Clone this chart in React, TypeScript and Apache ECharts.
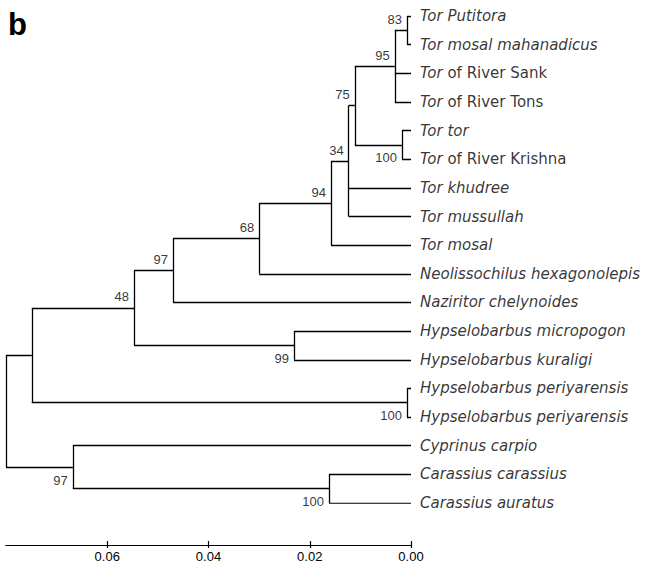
import React, { useEffect, useRef } from "react";
import * as echarts from "echarts";

// Leaf labels (top to bottom): italic part and roman part
const leafItalic = [
  "Tor Putitora",
  "Tor mosal mahanadicus",
  "Tor",
  "Tor",
  "Tor tor",
  "Tor",
  "Tor khudree",
  "Tor mussullah",
  "Tor mosal",
  "Neolissochilus hexagonolepis",
  "Naziritor chelynoides",
  "Hypselobarbus micropogon",
  "Hypselobarbus kuraligi",
  "Hypselobarbus periyarensis",
  "Hypselobarbus periyarensis",
  "Cyprinus carpio",
  "Carassius carassius",
  "Carassius auratus",
];
const leafRoman = [
  "", "", " of River Sank", " of River Tons", "", " of River Krishna",
  "", "", "", "", "", "", "", "", "", "", "", "",
];

// Internal nodes (children listed before parents)
const nodeIds = ["n83", "n95", "n100a", "n75", "n34", "n94", "n68", "n97a", "n99", "n48", "n100b", "nA", "n100c", "n97b", "root"];
const nodeDist = [0.0008, 0.0032, 0.0018, 0.0111, 0.0123, 0.0158, 0.030, 0.047, 0.0231, 0.0547, 0.0008, 0.0749, 0.0162, 0.0668, 0.08];
const nodeChildren = [
  ["L0", "L1"],
  ["n83", "L2", "L3"],
  ["L4", "L5"],
  ["n95", "n100a"],
  ["n75", "L6", "L7"],
  ["n34", "L8"],
  ["n94", "L9"],
  ["n68", "L10"],
  ["L11", "L12"],
  ["n97a", "n99"],
  ["L13", "L14"],
  ["n48", "n100b"],
  ["L16", "L17"],
  ["L15", "n100c"],
  ["nA", "n97b"],
];
const nodeSupport = ["83", "95", "100", "75", "34", "94", "68", "97", "99", "48", "100", "", "100", "97", ""];
const nodeLabelSide = ["above", "above", "below", "above", "above", "above", "above", "above", "below", "above", "below", "none", "below", "below", "none"];

// Axis ticks
const tickValues = [0, 0.02, 0.04, 0.06];

const numFont = "'Liberation Sans Narrow', 'Liberation Sans', Arial, sans-serif";
const leafFont = "'DejaVu Sans', Verdana, sans-serif";

export default function App() {
  const ref = useRef<HTMLDivElement>(null);
  useEffect(() => {
    if (!ref.current) return;
    const chart = echarts.init(ref.current, undefined, { renderer: "svg" });

    const pos: Record<string, [number, number]> = {};
    leafItalic.forEach((_, i) => {
      pos["L" + i] = [0, i];
    });
    const segs: any[] = [];
    nodeIds.forEach((id, k) => {
      const ch = nodeChildren[k];
      const d = nodeDist[k];
      const ys = ch.map((c) => pos[c][1]);
      const yTop = Math.min(...ys);
      const yBot = Math.max(...ys);
      pos[id] = [d, (yTop + yBot) / 2];
      segs.push({ coords: [[d, yTop], [d, yBot]] });
      ch.forEach((c) => {
        segs.push({ coords: [[pos[c][0], pos[c][1]], [d, pos[c][1]]] });
      });
    });

    const supportData = nodeIds
      .map((id, k) => ({ id, k }))
      .filter((o) => nodeLabelSide[o.k] !== "none")
      .map((o) => ({
        value: pos[o.id],
        label: {
          formatter: nodeSupport[o.k],
          offset: [0, nodeLabelSide[o.k] === "above" ? -11 : 13],
        },
      }));

    const leafData = leafItalic.map((name, i) => ({
      value: [0, i],
      label: {
        formatter: "{i|" + name + "}" + (leafRoman[i] ? "{n|" + leafRoman[i] + "}" : ""),
      },
    }));

    const xBase = {
      type: "value",
      inverse: true,
      min: 0,
      max: 0.08,
      splitLine: { show: false },
      axisLine: { show: true, onZero: false, lineStyle: { color: "#000", width: 1.2 } },
    };

    chart.setOption({
      animation: false,
      backgroundColor: "#fff",
      grid: { left: 6, right: 234, top: 16, bottom: 64, containLabel: false, outerBoundsMode: "none" },
      xAxis: [
        {
          ...xBase,
          position: "bottom",
          offset: 42,
          axisTick: { show: true, inside: false, length: 3, customValues: tickValues, lineStyle: { color: "#000", width: 1.2 } },
          axisLabel: {
            show: true,
            customValues: tickValues,
            formatter: (v: number) => v.toFixed(2),
            color: "#000",
            fontFamily: numFont,
            fontSize: 13,
            margin: 5,
          },
        },
        {
          ...xBase,
          position: "top",
          offset: -529,
          axisTick: { show: true, inside: false, length: 4, customValues: tickValues, lineStyle: { color: "#000", width: 1.2 } },
          axisLabel: { show: false },
        },
      ],
      yAxis: { type: "value", inverse: true, min: 0, max: 17, show: false },
      graphic: [
        {
          type: "text",
          left: 8,
          top: 9,
          style: { text: "b", font: "bold 31px 'Liberation Sans', Arial, sans-serif", fill: "#000" },
        },
      ],
      series: [
        {
          type: "lines",
          coordinateSystem: "cartesian2d",
          xAxisIndex: 0,
          yAxisIndex: 0,
          polyline: false,
          silent: true,
          lineStyle: { color: "#000", width: 1.3, opacity: 1 },
          data: segs,
        },
        {
          type: "scatter",
          symbolSize: 0,
          silent: true,
          data: supportData,
          label: {
            show: true,
            position: "left",
            distance: 5,
            color: "#000",
            fontFamily: numFont,
            fontSize: 13,
          },
        },
        {
          type: "scatter",
          symbolSize: 0,
          silent: true,
          data: leafData,
          label: {
            show: true,
            position: "right",
            distance: 9,
            color: "#000",
            rich: {
              i: { fontFamily: leafFont, fontStyle: "italic", fontSize: 15, color: "#000" },
              n: { fontFamily: leafFont, fontSize: 15, color: "#000" },
            },
          },
        },
      ],
    });
    return () => chart.dispose();
  }, []);
  return <div ref={ref} style={{ position: "fixed", left: 0, top: 0, width: 645, height: 567 }} />;
}
